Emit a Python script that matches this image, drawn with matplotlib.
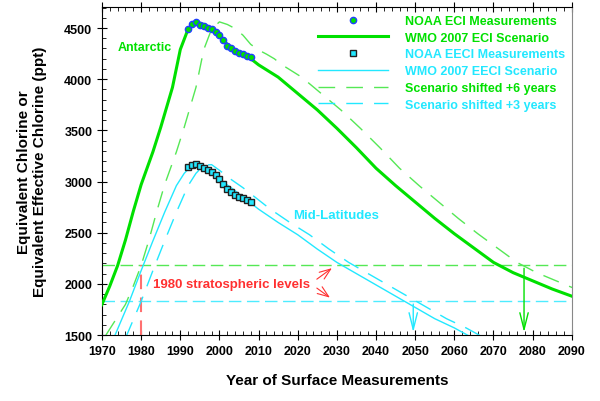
import numpy as np
import matplotlib
matplotlib.use('Agg')
import matplotlib.pyplot as plt

# WMO 2007 scenario, equivalent chlorine (Antarctic)
eci_years = [1965, 1970, 1972, 1974, 1976, 1978, 1980, 1983, 1985, 1988, 1990, 1992, 1994,
             1996, 1998, 2000, 2002, 2004, 2006, 2008, 2010, 2015, 2020, 2025, 2030, 2035,
             2040, 2045, 2050, 2055, 2060, 2065, 2070, 2075, 2080, 2085, 2090]
eci_vals = [1500, 1800, 1980, 2180, 2430, 2710, 2970, 3290, 3530, 3920, 4290, 4490, 4560,
            4535, 4495, 4430, 4340, 4285, 4245, 4200, 4140, 4020, 3860, 3700, 3520, 3330,
            3130, 2960, 2800, 2640, 2490, 2350, 2210, 2110, 2030, 1950, 1880]

# WMO 2007 scenario, equivalent effective chlorine (mid-latitudes)
eeci_years = [1970, 1973, 1977, 1980, 1983, 1986, 1989, 1991, 1993, 1995, 1997, 2000, 2003,
              2005, 2008, 2010, 2015, 2020, 2025, 2030, 2035, 2040, 2045, 2050, 2055,
              2060, 2065, 2070]
eeci_vals = [1230, 1470, 1830, 2130, 2420, 2700, 2960, 3080, 3160, 3165, 3110, 3020, 2940,
             2880, 2790, 2730, 2600, 2480, 2340, 2210, 2100, 1990, 1880, 1770, 1660,
             1570, 1465, 1370]

# NOAA measurements
noaa_years = [1992, 1993, 1994, 1995, 1996, 1997, 1998, 1999, 2000, 2001, 2002, 2003,
              2004, 2005, 2006, 2007, 2008]
noaa_eci = [4490, 4535, 4555, 4525, 4515, 4500, 4490, 4465, 4430, 4385, 4325, 4300,
            4275, 4260, 4245, 4230, 4215]
noaa_eeci = [3140, 3160, 3170, 3150, 3130, 3110, 3093, 3060, 3025, 2975, 2925, 2895,
             2870, 2850, 2835, 2815, 2805]

# 1980 stratospheric levels and the years they are reached again
level_eci = 2180
level_eeci = 1830
return_eci = 2077.8
return_eeci = 2049.5

shift_eci = 6
shift_eeci = 3

GREEN = '#00e000'
GREEN_LT = '#55e855'
CYAN = '#22e8ff'
RED = '#ff3030'

plt.rcParams['font.family'] = ['Liberation Sans', 'DejaVu Sans']
plt.rcParams['font.weight'] = 'bold'

fig = plt.figure(figsize=(6, 4.02), dpi=100)
ax = fig.add_axes([0.17, 0.164, 0.783, 0.816])

# 1980 level lines
ax.axhline(level_eci, color=GREEN_LT, lw=1, dashes=(9, 4))
ax.axhline(level_eeci, color=CYAN, lw=1, dashes=(9, 4), alpha=0.8)
ax.plot([1980, 1980], [1500, level_eci], color='#ff7070', lw=1.5, dashes=(7, 4))

# scenarios
ax.plot(eci_years, eci_vals, color=GREEN, lw=2.2, label='WMO 2007 ECI Scenario', zorder=3)
ax.plot(eeci_years, eeci_vals, color=CYAN, lw=1, label='WMO 2007 EECI Scenario', zorder=3)
ax.plot(np.array(eci_years) + shift_eci, eci_vals, color=GREEN_LT, lw=1, dashes=(12, 8),
        label='Scenario shifted +6 years')
ax.plot(np.array(eeci_years) + shift_eeci, eeci_vals, color=CYAN, lw=1, dashes=(12, 8),
        label='Scenario shifted +3 years')

# measurements
ax.plot(noaa_years, noaa_eci, 'o', ms=4.5, mfc=GREEN, mec='#2040ff', mew=1,
        label='NOAA ECI Measurements', zorder=4)
ax.plot(noaa_years, noaa_eeci, 's', ms=4.5, mfc=CYAN, mec='#202020', mew=1,
        label='NOAA EECI Measurements', zorder=4)

# return arrows
ax.annotate('', xy=(return_eci, 1500), xytext=(return_eci, level_eci),
            arrowprops=dict(arrowstyle='->,head_length=1.2,head_width=0.3', color=GREEN, lw=1))
ax.annotate('', xy=(return_eeci, 1500), xytext=(return_eeci, level_eeci),
            arrowprops=dict(arrowstyle='->,head_length=1.2,head_width=0.3', color=CYAN, lw=1))

# labels on plot
ax.text(1974, 4315, 'Antarctic', color=GREEN, fontsize=9, fontweight='bold', va='center')
ax.text(2018.8, 2673, 'Mid-Latitudes', color=CYAN, fontsize=9.5, fontweight='bold', va='center')
ax.text(1983, 2000, '1980 stratospheric levels', color=RED, fontsize=9.5, fontweight='bold',
        va='center')
ax.annotate('', xy=(2029.3, 2170), xytext=(2024.3, 2030),
            arrowprops=dict(arrowstyle='->,head_length=0.8,head_width=0.3', color=RED, lw=0.8))
ax.annotate('', xy=(2028.8, 1850), xytext=(2024.3, 1975),
            arrowprops=dict(arrowstyle='->,head_length=0.8,head_width=0.3', color=RED, lw=0.8))

ax.set_xlim(1970, 2090)
ax.set_ylim(1500, 4705)
ax.set_xticks(range(1970, 2091, 10))
ax.set_xticks(range(1970, 2091, 2), minor=True)
ax.set_yticks(range(1500, 4501, 500))
ax.set_yticks(range(1500, 4701, 100), minor=True)
ax.tick_params(which='major', direction='inout', length=7, labelsize=9, top=True)
ax.tick_params(which='minor', direction='in', length=3, top=True)
for lab in ax.get_xticklabels() + ax.get_yticklabels():
    lab.set_fontweight('bold')
ax.spines['right'].set_color('#888888')

ax.set_xlabel('Year of Surface Measurements', fontsize=11, fontweight='bold', labelpad=12)
ax.set_ylabel('Equivalent Chlorine or\nEquivalent Effective Chlorine (ppt)', fontsize=11,
              fontweight='bold', labelpad=12)

# legend in the original order
h, l = ax.get_legend_handles_labels()
order = ['NOAA ECI Measurements', 'WMO 2007 ECI Scenario', 'NOAA EECI Measurements',
         'WMO 2007 EECI Scenario', 'Scenario shifted +6 years', 'Scenario shifted +3 years']
hs = [h[l.index(o)] for o in order]
leg = ax.legend(hs, order, loc='upper left', bbox_to_anchor=(0.45, 0.991), frameon=False,
                fontsize=9, handlelength=5.6, handletextpad=1.35, labelspacing=0.38,
                numpoints=1, borderaxespad=0,
                labelcolor=[GREEN, GREEN, CYAN, CYAN, GREEN, CYAN])
for t in leg.get_texts():
    t.set_fontweight('bold')

plt.savefig('out.png', dpi=100)
plt.close()
